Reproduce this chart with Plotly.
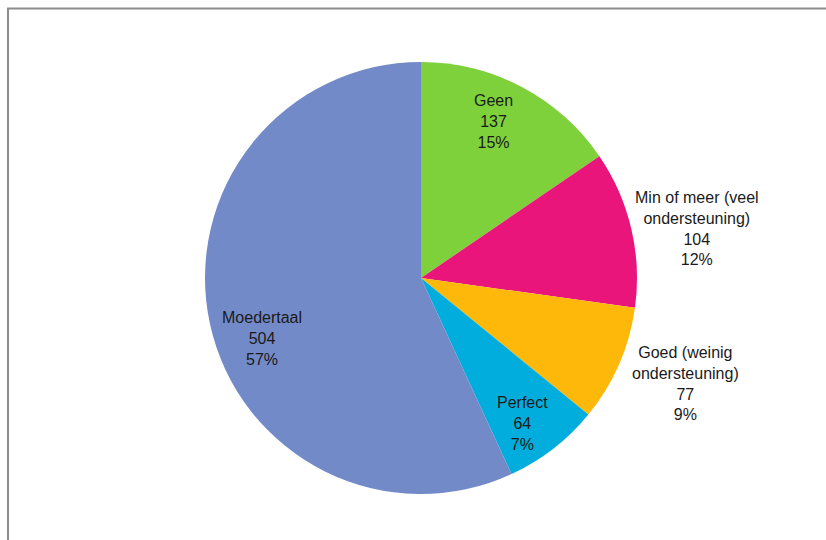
import math
import plotly.graph_objects as go

# Language proficiency breakdown
categories = ["Geen", "Min of meer (veel<br>ondersteuning)", "Goed (weinig<br>ondersteuning)", "Perfect", "Moedertaal"]
counts = [137, 104, 77, 64, 504]
colors = ["#7fd13b", "#ea157a", "#feb80a", "#00addc", "#738ac8"]

W, H = 826, 540
CX, CY, R = 421, 278, 216  # pie centre and radius in pixels

# label placement: radial distance (fraction of R) and angular nudge (degrees)
label_r = [0.80, 1.30, 1.32, 0.82, 0.79]
label_da = [-3.0, 3.0, -1.8, 3.0, -8.5]

fig = go.Figure()
fig.add_trace(go.Pie(
    values=counts,
    labels=categories,
    marker=dict(colors=colors, line=dict(width=0)),
    sort=False,
    direction="clockwise",
    rotation=0,
    textinfo="none",
    hoverinfo="label+value+percent",
    showlegend=False,
    domain=dict(x=[(CX - R) / W, (CX + R) / W],
                y=[(H - CY - R) / H, (H - CY + R) / H]),
))

total = sum(counts)
cum = 0
annotations = []
for i, (cat, v) in enumerate(zip(categories, counts)):
    mid = (cum + v / 2) / total * 360 + label_da[i]
    cum += v
    th = math.radians(mid)
    px = CX + label_r[i] * R * math.sin(th)
    py = CY - label_r[i] * R * math.cos(th)
    pct = round(v / total * 100)
    annotations.append(dict(
        x=px / W, y=1 - py / H, xref="paper", yref="paper",
        text=f"{cat}<br>{v}<br>{pct}%",
        showarrow=False, align="center",
        xanchor="center", yanchor="middle",
        font=dict(family="Liberation Sans, Arial, sans-serif", size=16, color="#1a1a1a"),
    ))

fig.update_layout(
    width=W, height=H,
    margin=dict(l=0, r=0, t=0, b=0),
    paper_bgcolor="white",
    plot_bgcolor="white",
    annotations=annotations,
    shapes=[dict(type="rect", xref="paper", yref="paper",
                 x0=8 / W, y0=1 - 8.5 / H, x1=1.2, y1=-0.2,
                 line=dict(color="#8c8c8c", width=2), fillcolor="rgba(0,0,0,0)")],
)

fig.write_html("out.html")
